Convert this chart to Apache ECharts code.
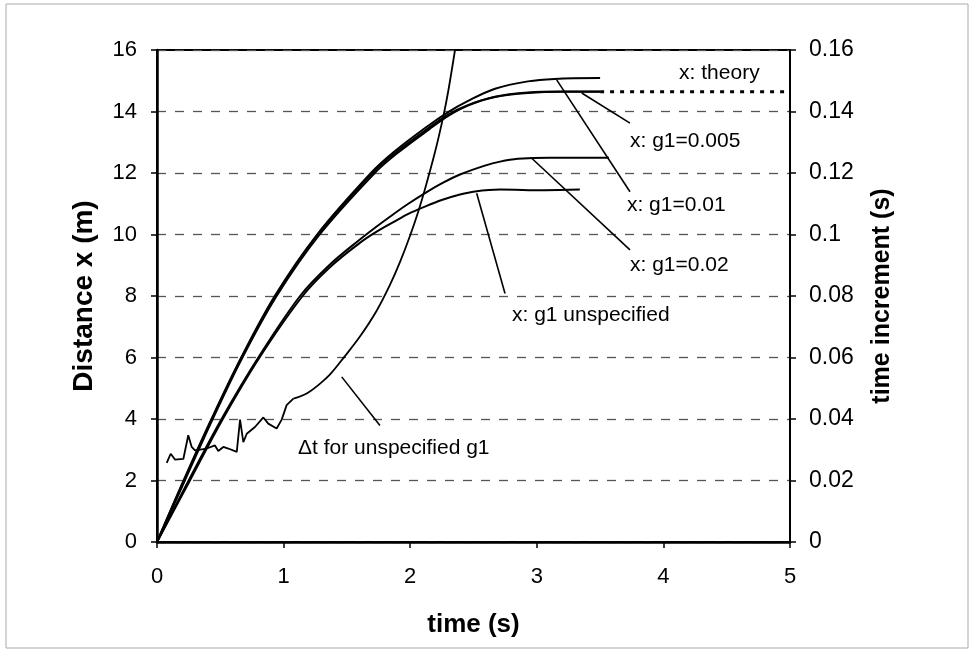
<!DOCTYPE html>
<html>
<head>
<meta charset="utf-8">
<script src="https://cdn.jsdelivr.net/npm/echarts@6/dist/echarts.min.js"></script>
<style>
  html, body { margin: 0; padding: 0; background: #fff; }
  #chart { width: 975px; height: 654px; }
</style>
</head>
<body>
<div id="chart"></div>
<script>
// distance curves, [time s, x m]
var theory = [[0, 0], [0.213, 2], [0.434, 4], [0.669, 6], [0.935, 8], [1.27, 10], [1.70, 12], [1.88, 12.65], [2.13, 13.42], [2.30, 13.9], [2.45, 14.2], [2.67, 14.47], [2.93, 14.6], [3.2, 14.64], [3.5, 14.64], [4, 14.64], [4.5, 14.64], [5, 14.64]]
var g005 = [[0, 0], [0.22, 2], [0.44, 4], [0.675, 6], [0.945, 8], [1.285, 10], [1.72, 12], [1.9, 12.65], [2.15, 13.42], [2.31, 13.88], [2.46, 14.2], [2.67, 14.48], [2.93, 14.62], [3.2, 14.65], [3.5, 14.65]]
var g01 = [[0, 0], [0.21, 2], [0.43, 4], [0.665, 6], [0.93, 8], [1.265, 10], [1.69, 12], [1.87, 12.68], [2.12, 13.47], [2.3, 13.98], [2.45, 14.33], [2.67, 14.74], [2.93, 14.98], [3.14, 15.06], [3.5, 15.09]]
var g02 = [[0, 0], [0.25, 2], [0.51, 4], [0.80, 6], [1.13, 8], [1.36, 9.0], [1.6, 9.83], [1.722, 10.22], [1.867, 10.66], [1.985, 11.0], [2.13, 11.38], [2.249, 11.66], [2.393, 11.95], [2.59, 12.24], [2.71, 12.37], [2.85, 12.46], [3.1, 12.5], [3.57, 12.5]]
var gUnspec = [[0, 0], [0.26, 2], [0.52, 4], [0.81, 6], [1.15, 8], [1.37, 8.95], [1.6, 9.72], [1.722, 10.06], [1.867, 10.4], [1.985, 10.67], [2.13, 10.93], [2.249, 11.12], [2.393, 11.3], [2.512, 11.4], [2.71, 11.46], [3.06, 11.44], [3.34, 11.46]]

// time increment for unspecified g1, [time s, dt s]
var dtUnspec = [[0.077, 0.0257], [0.108, 0.0287], [0.142, 0.0268], [0.208, 0.027], [0.247, 0.0347], [0.274, 0.0309], [0.300, 0.0298], [0.393, 0.0304], [0.458, 0.0314], [0.484, 0.0296], [0.524, 0.0309], [0.563, 0.0304], [0.630, 0.0293], [0.656, 0.0398], [0.682, 0.0325], [0.709, 0.0352], [0.774, 0.0374], [0.840, 0.0405], [0.879, 0.0385], [0.945, 0.0369], [0.985, 0.0398], [1.024, 0.0445], [1.077, 0.0466], [1.182, 0.0483], [1.288, 0.0515], [1.367, 0.0545], [1.472, 0.0598], [1.603, 0.0668], [1.735, 0.0752], [1.84, 0.0836], [1.919, 0.091], [1.998, 0.0995], [2.064, 0.1075], [2.117, 0.1148], [2.196, 0.1268], [2.262, 0.1385], [2.30, 0.1465], [2.354, 0.16]]

// callouts: leader from / to, and where the text starts (left axis units)
var calloutText = ['x: theory', 'x: g1=0.005', 'x: g1=0.01', 'x: g1=0.02', 'x: g1 unspecified', 'Δt for unspecified g1']
var calloutAt = [[4.124, 15.23], [3.736, 13.02], [3.712, 10.96], [3.736, 9.0], [2.804, 7.38], [1.114, 3.05]]
var leaders = [
  [[3.355, 14.6], [3.736, 13.62]],
  [[3.157, 15.03], [3.736, 11.39]],
  [[2.96, 12.48], [3.736, 9.5]],
  [[2.525, 11.34], [2.749, 8.08]],
  [[1.459, 5.37], [1.761, 3.79]]
]

;(function () {
  var myChart = echarts.init(document.getElementById('chart'))
  var font = 'Liberation Sans, Arial, sans-serif'
  // theory is solid where the runs are, dotted for the plateau after
  var theorySolid = theory.filter(function (p) { return p[0] <= 3.5 })
  var theoryDotted = theory.filter(function (p) { return p[0] >= 3.5 })
  // dt is noisy up to ~1.08 s, smooth after
  var dtNoisy = dtUnspec.filter(function (p) { return p[0] <= 1.077 })
  var dtRise = dtUnspec.filter(function (p) { return p[0] >= 1.077 })

  function curve (name, data, extra) {
    var s = {
      name: name,
      type: 'line',
      data: data,
      showSymbol: false,
      smooth: 0.35,
      lineStyle: { color: '#000', width: 2 }
    }
    for (var k in extra) s[k] = extra[k]
    return s
  }

  var option = {
    animation: false,
    backgroundColor: '#fff',
    textStyle: { fontFamily: font },
    graphic: [{
      type: 'rect',
      shape: { x: 6, y: 4, width: 962, height: 644 },
      style: { fill: 'none', stroke: '#aaa', lineWidth: 1 },
      silent: true
    }],
    grid: {
      left: 157,
      right: 185,
      top: 50,
      bottom: 112,
      show: true,
      borderColor: '#000',
      borderWidth: 2
    },
    xAxis: {
      type: 'value',
      min: 0,
      max: 5,
      interval: 1,
      name: 'time (s)',
      nameLocation: 'middle',
      nameGap: 70,
      nameTextStyle: { fontSize: 26, fontWeight: 'bold', color: '#000', fontFamily: font },
      axisLine: { lineStyle: { color: '#000', width: 2.5 } },
      axisTick: { length: 6, lineStyle: { color: '#000', width: 1.5 } },
      axisLabel: { fontSize: 22, color: '#000', margin: 24, fontFamily: font },
      splitLine: { show: false }
    },
    yAxis: [{
      type: 'value',
      min: 0,
      max: 16,
      interval: 2,
      name: 'Distance x (m)',
      nameLocation: 'middle',
      nameGap: 59,
      nameTextStyle: { fontSize: 28, fontWeight: 'bold', color: '#000', fontFamily: font },
      axisLine: { show: true, lineStyle: { color: '#000', width: 2.5 } },
      axisTick: { show: true, length: 6, lineStyle: { color: '#000', width: 1.5 } },
      axisLabel: { fontSize: 22, color: '#000', margin: 20, fontFamily: font },
      splitLine: { lineStyle: { color: '#555', width: 1.3, type: [9, 9] } }
    }, {
      type: 'value',
      position: 'right',
      min: 0,
      max: 0.16,
      interval: 0.02,
      name: 'time increment (s)',
      nameLocation: 'middle',
      nameGap: 80,
      nameRotate: 90,
      nameTextStyle: { fontSize: 25, fontWeight: 'bold', color: '#000', fontFamily: font },
      axisLine: { show: true, lineStyle: { color: '#000', width: 2 } },
      axisTick: { show: true, length: 6, lineStyle: { color: '#000', width: 1.5 } },
      axisLabel: { fontSize: 23, color: '#000', margin: 19, fontFamily: font },
      splitLine: { show: false }
    }],
    series: [
      curve('x: theory', theorySolid, {}),
      curve('x: theory (plateau)', theoryDotted, {
        smooth: false,
        lineStyle: { color: '#000', width: 3, type: [4, 6] }
      }),
      curve('x: g1=0.005', g005, {}),
      curve('x: g1=0.01', g01, {}),
      curve('x: g1=0.02', g02, {}),
      curve('x: g1 unspecified', gUnspec, {
        markLine: {
          silent: true,
          symbol: 'none',
          label: { show: false },
          lineStyle: { color: '#000', width: 1.6, type: 'solid' },
          data: leaders.map(function (l) {
            return [{ coord: l[0] }, { coord: l[1] }]
          })
        },
        markPoint: {
          silent: true,
          symbol: 'circle',
          symbolSize: 0,
          label: {
            show: true,
            position: 'right',
            distance: 0,
            color: '#000',
            fontSize: 21,
            fontFamily: font,
            formatter: function (p) { return p.name }
          },
          data: calloutText.map(function (t, i) {
            return { name: t, coord: calloutAt[i] }
          })
        }
      }),
      curve('Δt for unspecified g1', dtNoisy, {
        yAxisIndex: 1,
        smooth: false,
        lineStyle: { color: '#000', width: 1.8 }
      }),
      curve('Δt for unspecified g1 (rise)', dtRise, {
        yAxisIndex: 1,
        lineStyle: { color: '#000', width: 1.8 }
      })
    ]
  }
  myChart.setOption(option)
})()
</script>
</body>
</html>
